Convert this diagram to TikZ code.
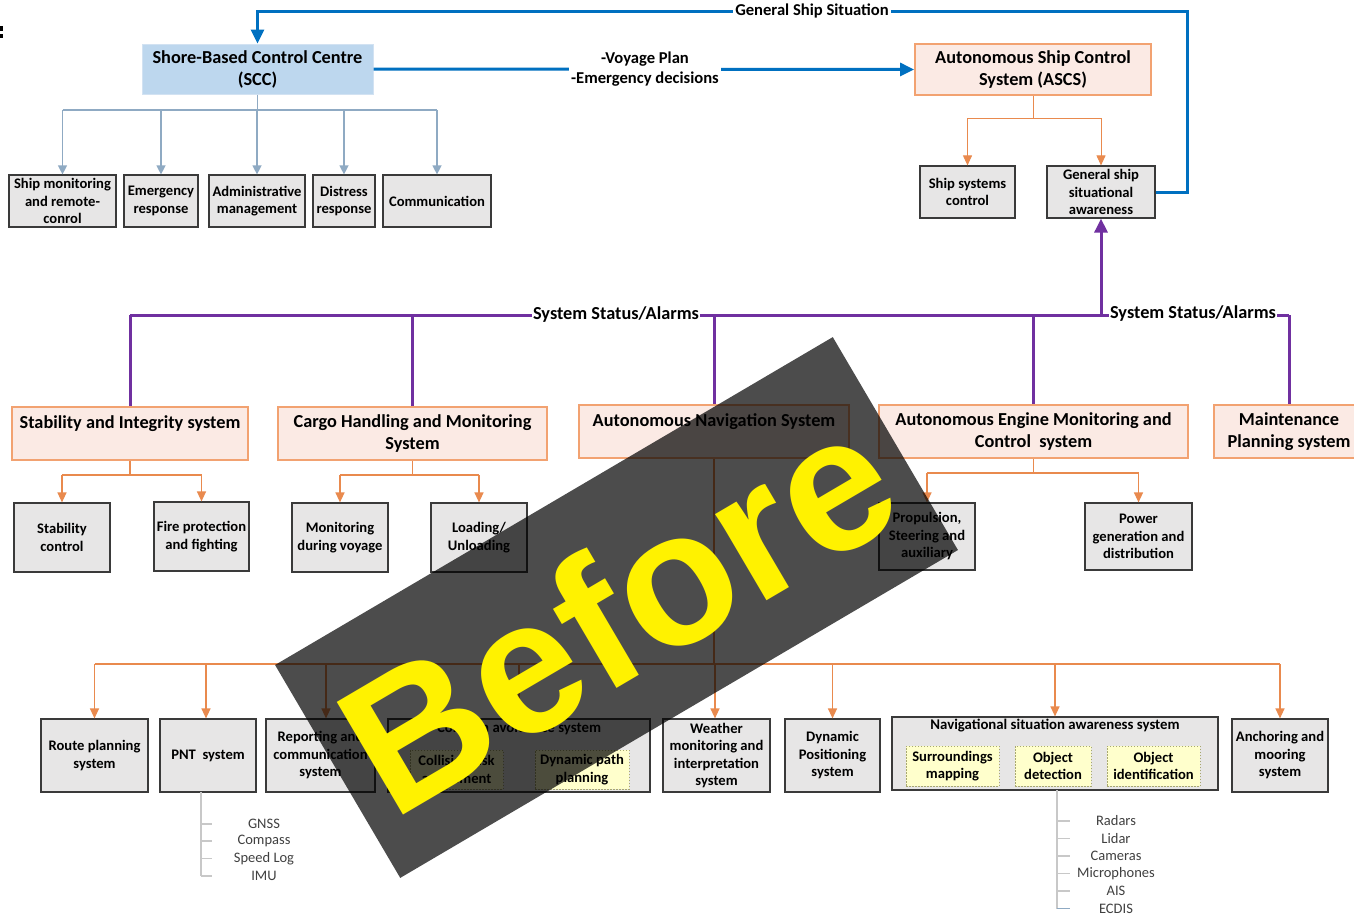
\documentclass[tikz,border=0pt]{standalone}
\usepackage{fontspec}
\setmainfont{Carlito}
\newfontfamily\bannerfont{Liberation Sans}
\usetikzlibrary{arrows.meta}

\definecolor{sccfill}{HTML}{BDD7EE}
\definecolor{sccdraw}{HTML}{D2E2F2}
\definecolor{linkblue}{HTML}{0070C0}
\definecolor{treeblue}{HTML}{8FAAC3}
\definecolor{pinkfill}{HTML}{FBEAE4}
\definecolor{pinkdraw}{HTML}{F2A271}
\definecolor{orangeline}{HTML}{E98A4E}
\definecolor{greyfill}{HTML}{E7E6E6}
\definecolor{greydraw}{HTML}{3A3A3A}
\definecolor{alarmpurple}{HTML}{7030A0}
\definecolor{subfill}{HTML}{FFFFCC}
\definecolor{subdraw}{HTML}{A8A870}
\definecolor{sensorline}{HTML}{C8C8C8}
\definecolor{sensortext}{HTML}{404040}

\tikzset{
  headbox/.style={draw=pinkdraw, line width=1.8pt, fill=pinkfill, align=center,
    inner sep=2pt, font=\bfseries\fontsize{18.3}{22}\selectfont},
  sccbox/.style={draw=sccdraw, line width=1pt, fill=sccfill, align=center,
    inner sep=2pt, font=\bfseries\fontsize{18.3}{22}\selectfont},
  unitbox/.style={draw=greydraw, line width=1.2pt, fill=greyfill, align=center,
    inner sep=1pt, font=\bfseries\fontsize{14.6}{17.5}\selectfont},
  subbox/.style={draw=subdraw, dash pattern=on 1.5pt off 1.5pt, line width=0.8pt,
    fill=subfill, align=center, inner sep=1pt, font=\bfseries\fontsize{14.6}{17.5}\selectfont},
  boxtitle/.style={font=\bfseries\fontsize{14.8}{17.5}\selectfont, inner sep=1pt},
  bluelink/.style={draw=linkblue, line width=3pt},
  bluetip/.style={-{Triangle[length=14pt,width=13pt]}},
  bluetree/.style={draw=treeblue, line width=1.3pt},
  bluetreetip/.style={-{Triangle[length=9pt,width=9pt]}},
  orangetree/.style={draw=orangeline, line width=1.3pt},
  orangetip/.style={-{Triangle[length=10pt,width=9pt]}},
  alarm/.style={draw=alarmpurple, line width=3pt},
  alarmtip/.style={-{Triangle[length=14pt,width=13pt]}},
  linklabel/.style={fill=white, inner sep=2pt, align=center,
    font=\bfseries\fontsize{16.6}{20}\selectfont},
  alarmlabel/.style={fill=white, inner sep=1.5pt, font=\bfseries\fontsize{18.3}{20}\selectfont},
  sensor/.style={text=sensortext, inner sep=1pt, font=\fontsize{14.5}{16}\selectfont},
  sensorline/.style={draw=sensorline, line width=1.2pt},
}

\begin{document}
\begin{tikzpicture}[x=1pt,y=-1pt]
\useasboundingbox (0,0) rectangle (1354,916);
\fill[white] (0,0) rectangle (1354,916);

% stray mark at the left edge
\fill[black] (0,26) rectangle (2.7,30.5);
\fill[black] (0,33.5) rectangle (2.7,38);

% ---------- top level ----------
\node[sccbox, minimum width=231pt, minimum height=50pt] (scc) at (257.5,69)
  {Shore-Based Control Centre\\(SCC)};
\node[headbox, minimum width=236pt, minimum height=51pt] (ascs) at (1033,69.5)
  {Autonomous Ship Control\\System (ASCS)};

% SCC functions
\node[unitbox, minimum width=107pt, minimum height=52pt] (sm) at (62.5,201) {Ship monitoring\\and remote-\\conrol};
\node[unitbox, minimum width=74pt, minimum height=52pt] (er) at (161,201) {Emergency\\response};
\node[unitbox, minimum width=96pt, minimum height=52pt] (am) at (257,201) {Administrative\\management};
\node[unitbox, minimum width=62pt, minimum height=52pt] (dr) at (344,201) {Distress\\response};
\node[unitbox, minimum width=108pt, minimum height=52pt] (cm) at (437,201) {Communication};

% ASCS functions
\node[unitbox, minimum width=95pt, minimum height=52pt] (ssc) at (967.5,192) {Ship systems\\control};
\node[unitbox, minimum width=108pt, minimum height=52pt] (gssa) at (1101,192) {General ship\\situational\\awareness};

% ---------- ship systems ----------
\node[headbox, minimum width=236pt, minimum height=53pt] (stab) at (130,433.5) {Stability and Integrity system\\\mbox{}};
\node[headbox, minimum width=269pt, minimum height=53pt] (cargo) at (412.5,433.5) {Cargo Handling and Monitoring\\System};
\node[headbox, minimum width=270pt, minimum height=53pt] (nav) at (714,431.5) {Autonomous Navigation System\\\mbox{}};
\node[headbox, minimum width=309pt, minimum height=53pt] (eng) at (1033.5,431.5) {Autonomous Engine Monitoring and\\Control\ \ system};
\node[headbox, minimum width=150pt, minimum height=53pt] (maint) at (1289,431.5) {Maintenance\\Planning system};

\node[unitbox, minimum width=96pt, minimum height=69pt] (sc) at (62,537.5) {Stability\\control};
\node[unitbox, minimum width=95pt, minimum height=69pt] (fp) at (201.5,536.5) {Fire protection\\and fighting};
\node[unitbox, minimum width=96pt, minimum height=69pt] (mv) at (340,537.5) {Monitoring\\during voyage};
\node[unitbox, minimum width=96pt, minimum height=69pt] (lu) at (479,537.5) {Loading/\\Unloading};
\node[unitbox, minimum width=96pt, minimum height=67pt] (ps) at (927,536.5) {Propulsion,\\Steering and\\auxiliary};
\node[unitbox, minimum width=107pt, minimum height=67pt] (pg) at (1138.5,536.5) {Power\\generation and\\distribution};

% ---------- navigation subsystems ----------
\node[unitbox, minimum width=107pt, minimum height=73pt] (rp) at (94.5,755.5) {Route planning\\system};
\node[unitbox, minimum width=96pt, minimum height=73pt] (pnt) at (208,755.5) {PNT\ \ system};
\node[unitbox, minimum width=109pt, minimum height=73pt] (rc) at (320.5,755.5) {Reporting and\\communication\\system};
\node[unitbox, minimum width=262pt, minimum height=73pt] (ca) at (519,755.5) {};
\node[boxtitle] (catitle) at (519,728) {Collision avoidance system};
\node[subbox, minimum width=93pt, minimum height=39pt] (cra) at (456.5,769.5) {Collision risk\\assessment};
\node[subbox, minimum width=94pt, minimum height=39pt] (dpp) at (582,769.5) {Dynamic path\\planning};
\node[unitbox, minimum width=107pt, minimum height=73pt] (wm) at (716.5,755.5) {Weather\\monitoring and\\interpretation\\system};
\node[unitbox, minimum width=95pt, minimum height=73pt] (dp) at (832.5,755.5) {Dynamic\\Positioning\\system};
\node[unitbox, minimum width=326pt, minimum height=73pt] (nsa) at (1055,753.5) {};
\node[boxtitle] (nsatitle) at (1055,726) {Navigational situation awareness system};
\node[subbox, minimum width=93pt, minimum height=40pt] (smap) at (952.5,766) {Surroundings\\mapping};
\node[subbox, minimum width=76pt, minimum height=40pt] (od) at (1053,766) {Object\\detection};
\node[subbox, minimum width=93pt, minimum height=40pt] (oi) at (1153.5,766) {Object\\identification};
\node[unitbox, minimum width=96pt, minimum height=73pt] (anc) at (1280,755.5) {Anchoring and\\mooring\\system};

% ---------- blue links between SCC and ASCS ----------
\draw[bluelink, bluetip] (scc.east) -- (ascs.west);
\node[linklabel] (vp) at (645,69) {-Voyage Plan\\-Emergency decisions};
\coordinate (gsTR) at (1187,11);
\draw[bluelink, bluetip] (gssa.east) -| (gsTR) -| (scc.north);
\node[linklabel] (gss) at (812,11) {General Ship Situation};

% ---------- SCC tree ----------
\coordinate (sccL) at (62.5,110);
\coordinate (sccR) at (437,110);
\draw[bluetree] (scc.south) -- (scc.south |- sccL);
\draw[bluetree] (sccL) -- (sccR);
\foreach \n in {sm,er,am,dr,cm}
  \draw[bluetree, bluetreetip] (sccL -| \n.north) -- (\n.north);

% ---------- ASCS tree ----------
\coordinate (ascsL) at (967.5,118);
\coordinate (ascsR) at (1101,118);
\draw[orangetree, line width=1pt] (ascs.south) -- (ascs.south |- ascsL);
\draw[orangetree, line width=1pt] (ascsL) -- (ascsR);
\foreach \n in {ssc,gssa}
  \draw[orangetree, line width=1pt, orangetip] (ascsL -| \n.north) -- (\n.north);

% ---------- alarm bus ----------
\coordinate (ssL) at (130,315);
\coordinate (ssR) at (1289,315);
\coordinate (ssJ) at (1101,315);
\draw[alarm] (ssL) -- (ssR);
\draw[alarm, alarmtip] (ssJ) -- (gssa.south);
\foreach \n in {stab,cargo,nav,eng,maint}
  \draw[alarm] (ssL -| \n.north) -- (\n.north);
\node[alarmlabel] (al1) at (616,315) {System Status/Alarms};
\node[alarmlabel] (al2) at (1193,314) {System Status/Alarms};

% ---------- ship system trees ----------
\coordinate (stL) at (62,475);
\coordinate (stR) at (201.5,475);
\draw[orangetree] (stab.south) -- (stab.south |- stL);
\draw[orangetree] (stL) -- (stR);
\foreach \n in {sc,fp}
  \draw[orangetree, orangetip] (stL -| \n.north) -- (\n.north);

\coordinate (cgL) at (340,475);
\coordinate (cgR) at (479,475);
\draw[orangetree] (cargo.south) -- (cargo.south |- cgL);
\draw[orangetree] (cgL) -- (cgR);
\foreach \n in {mv,lu}
  \draw[orangetree, orangetip] (cgL -| \n.north) -- (\n.north);

\coordinate (enL) at (927,473);
\coordinate (enR) at (1138.5,473);
\draw[orangetree] (eng.south) -- (eng.south |- enL);
\draw[orangetree] (enL) -- (enR);
\foreach \n in {ps,pg}
  \draw[orangetree, orangetip] (enL -| \n.north) -- (\n.north);

% ---------- navigation tree ----------
\coordinate (nvL) at (94.5,664);
\coordinate (nvR) at (1280,664);
\draw[orangetree] (nav.south) -- (nav.south |- nvL);
\draw[orangetree] (nvL) -- (nvR);
\coordinate (d1) at (94.5,664);
\coordinate (d2) at (206,664);
\coordinate (d3) at (326,664);
\coordinate (d4) at (519,664);
\coordinate (d5) at (715,664);
\coordinate (d6) at (832.5,664);
\coordinate (d7) at (1055,664);
\coordinate (d8) at (1280,664);
\draw[orangetree, orangetip] (d1) -- (d1 |- rp.north);
\draw[orangetree, orangetip] (d2) -- (d2 |- pnt.north);
\draw[orangetree, orangetip] (d3) -- (d3 |- rc.north);
\draw[orangetree, orangetip] (d4) -- (d4 |- ca.north);
\draw[orangetree, orangetip] (d5) -- (d5 |- wm.north);
\draw[orangetree, orangetip] (d6) -- (d6 |- dp.north);
\draw[orangetree, orangetip] (d7) -- (d7 |- nsa.north);
\draw[orangetree, orangetip] (d8) -- (d8 |- anc.north);

% ---------- sensor lists ----------
\node[sensor] (gnss) at (264,824) {GNSS};
\node[sensor] (compass) at (264,841) {Compass};
\node[sensor] (slog) at (264,858.5) {Speed Log};
\node[sensor] (imu) at (264,876) {IMU};
\coordinate (pntS) at (201,792);
\draw[sensorline] (pntS) -- (pntS |- imu.west);
\foreach \n in {gnss,compass,slog,imu}
  \draw[sensorline] (pntS |- \n.west) -- ++(11,0);

\node[sensor] (radars) at (1116,821) {Radars};
\node[sensor] (lidar) at (1116,838.5) {Lidar};
\node[sensor] (cams) at (1116,856) {Cameras};
\node[sensor] (mics) at (1116,873.5) {Microphones};
\node[sensor] (ais) at (1116,891) {AIS};
\node[sensor] (ecdis) at (1116,908.5) {ECDIS};
\coordinate (nsaS) at (1057,790);
\draw[sensorline] (nsaS) -- (nsaS |- ecdis.west);
\foreach \n in {radars,lidar,cams,mics,ais}
  \draw[sensorline] (nsaS |- \n.west) -- ++(13,0);
\draw[draw=treeblue, line width=1.2pt] (nsaS |- ecdis.west) -- ++(13,0);

% ---------- overlay banner ----------
\node[fill=black, fill opacity=0.7, minimum width=647pt, minimum height=247pt,
  inner sep=0pt, rotate=30.45] (banner) at (616.5,607.5) {};
\node[rotate=30.45, text=yellow, inner sep=0pt,
  font=\bannerfont\bfseries\fontsize{190}{190}\selectfont] (before) at (617,610) {Before};
\end{tikzpicture}
\end{document}
